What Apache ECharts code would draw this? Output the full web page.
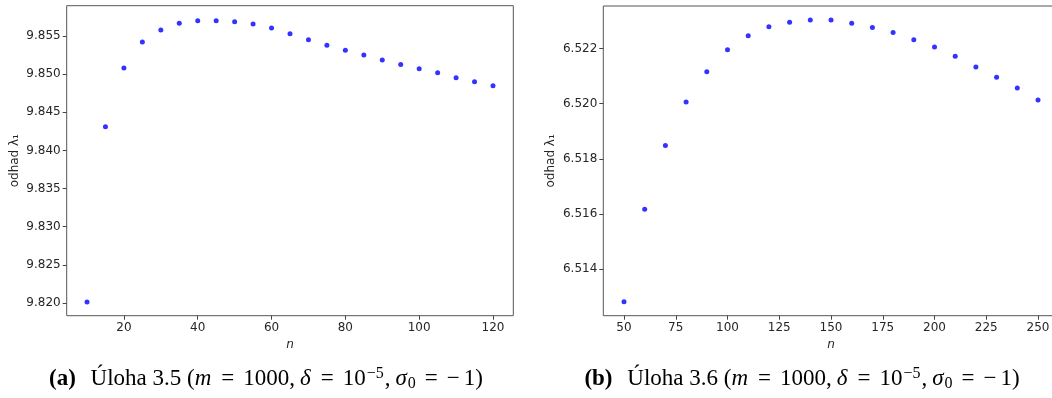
<!DOCTYPE html>
<html><head><meta charset="utf-8">
<script src="https://cdn.jsdelivr.net/npm/echarts@6/dist/echarts.min.js"></script>
<style>html,body{margin:0;padding:0;background:#fff}#c{width:1052px;height:398px}</style>
</head><body><div id="c"></div>
<script>
// ---- data ----
const nA = [10,15,20,25,30,35,40,45,50,55,60,65,70,75,80,85,90,95,100,105,110,115,120];
const lamA = [9.82013,9.84309,9.85082,9.85421,9.85579,9.85666,9.85700,9.85700,9.85687,9.85657,9.85605,9.85530,9.85452,9.85378,9.85313,9.85251,9.85186,9.85125,9.85069,9.85017,9.84952,9.84900,9.84847];
const nB = [50,60,70,80,90,100,110,120,130,140,150,160,170,180,190,200,210,220,230,240,250];
const lamB = [6.51282,6.51617,6.51848,6.52006,6.52116,6.52195,6.52246,6.52279,6.52295,6.52303,6.52303,6.52291,6.52276,6.52258,6.52232,6.52205,6.52172,6.52133,6.52096,6.52057,6.52013];
const xTicksA = [20,40,60,80,100,120];
const yTicksA = [9.820,9.825,9.830,9.835,9.840,9.845,9.850,9.855];
const xTicksB = [50,75,100,125,150,175,200,225,250];
const yTicksB = [6.514,6.516,6.518,6.520,6.522];
const yName = 'odhad λ₁';
const xName = 'n';
const captionA = '{b|(a)}{q| }Úloha 3.5 ({i|m}{eq|=}1000{c|,}{i|δ}{eq|=}10{sup|−5}{c|,}{i|σ}{sub|0}{eq|=}{mn|−}1)';
const captionB = '{b|(b)}{q| }Úloha 3.6 ({i|m}{eq|=}1000{c|,}{i|δ}{eq|=}10{sup|−5}{c|,}{i|σ}{sub|0}{eq|=}{mn|−}1)';

const labelFont = {fontFamily:'DejaVu Sans', fontSize:12, color:'#262626'};
function xAx(gi, min, max, ticks){
  return {type:'value', gridIndex:gi, min:min, max:max,
    name:xName, nameLocation:'middle', nameGap:20,
    nameTextStyle:Object.assign({fontStyle:'italic'}, labelFont),
    axisLine:{show:false}, splitLine:{show:false},
    axisTick:{show:true, inside:false, length:4, customValues:ticks, lineStyle:{color:'#444', width:1}},
    axisLabel:Object.assign({customValues:ticks, margin:6, hideOverlap:false}, labelFont)};
}
function yAx(gi, min, max, ticks){
  return {type:'value', gridIndex:gi, min:min, max:max, scale:true,
    name:yName, nameLocation:'middle', nameGap:46, nameRotate:90,
    nameTextStyle:labelFont,
    axisLine:{show:false}, splitLine:{show:false},
    axisTick:{show:true, inside:false, length:4, customValues:ticks, lineStyle:{color:'#444', width:1}},
    axisLabel:Object.assign({customValues:ticks, margin:6, hideOverlap:false, formatter:v=>v.toFixed(3)}, labelFont)};
}
const gridStyle = {show:true, borderColor:'#555', borderWidth:1, backgroundColor:'transparent', containLabel:false, outerBoundsMode:'none'};
const F = 'Liberation Serif';
const capRich = {
  b:{fontFamily:F, fontSize:23, fontWeight:'bold', fill:'#000', padding:[0,3,0,0]},
  q:{fontFamily:F, fontSize:23, padding:[0,6,0,0]},
  i:{fontFamily:F, fontSize:23, fontStyle:'italic', fill:'#000', padding:[0,1,0,0]},
  eq:{fontFamily:F, fontSize:23, padding:[0,9,0,9], fill:'#000'},
  c:{fontFamily:F, fontSize:23, padding:[0,5,0,0], fill:'#000'},
  mn:{fontFamily:F, fontSize:23, padding:[0,4,0,0], fill:'#000'},
  sup:{fontFamily:F, fontSize:16, padding:[0,1,11,1], fill:'#000'},
  sub:{fontFamily:F, fontSize:16, padding:[10,0,0,0], fill:'#000'}
};
const chart = echarts.init(document.getElementById('c'), null, {renderer:'canvas'});
chart.setOption({
  animation:false,
  backgroundColor:'#fff',
  grid:[
    Object.assign({left:66.7, top:5.7, width:446.6, height:310}, gridStyle),
    Object.assign({left:603.3, top:6, width:455.4, height:309.7}, gridStyle)
  ],
  xAxis:[xAx(0, 4.5, 125.5, xTicksA), xAx(1, 40, 260, xTicksB)],
  yAxis:[yAx(0, 9.81834, 9.85897, yTicksA), yAx(1, 6.51231, 6.52354, yTicksB)],
  series:[
    {type:'scatter', xAxisIndex:0, yAxisIndex:0, symbolSize:5, itemStyle:{color:'#0000ff'},
     data:nA.map((n,i)=>[n, lamA[i]])},
    {type:'scatter', xAxisIndex:1, yAxisIndex:1, symbolSize:5, itemStyle:{color:'#0000ff'},
     data:nB.map((n,i)=>[n, lamB[i]])}
  ],
  graphic:[
    {type:'text', x:266, y:379, style:{text:captionA, rich:capRich, fontFamily:F, fontSize:23, fill:'#000', align:'center', verticalAlign:'middle'}},
    {type:'text', x:802, y:379, style:{text:captionB, rich:capRich, fontFamily:F, fontSize:23, fill:'#000', align:'center', verticalAlign:'middle'}}
  ]
});
</script></body></html>
